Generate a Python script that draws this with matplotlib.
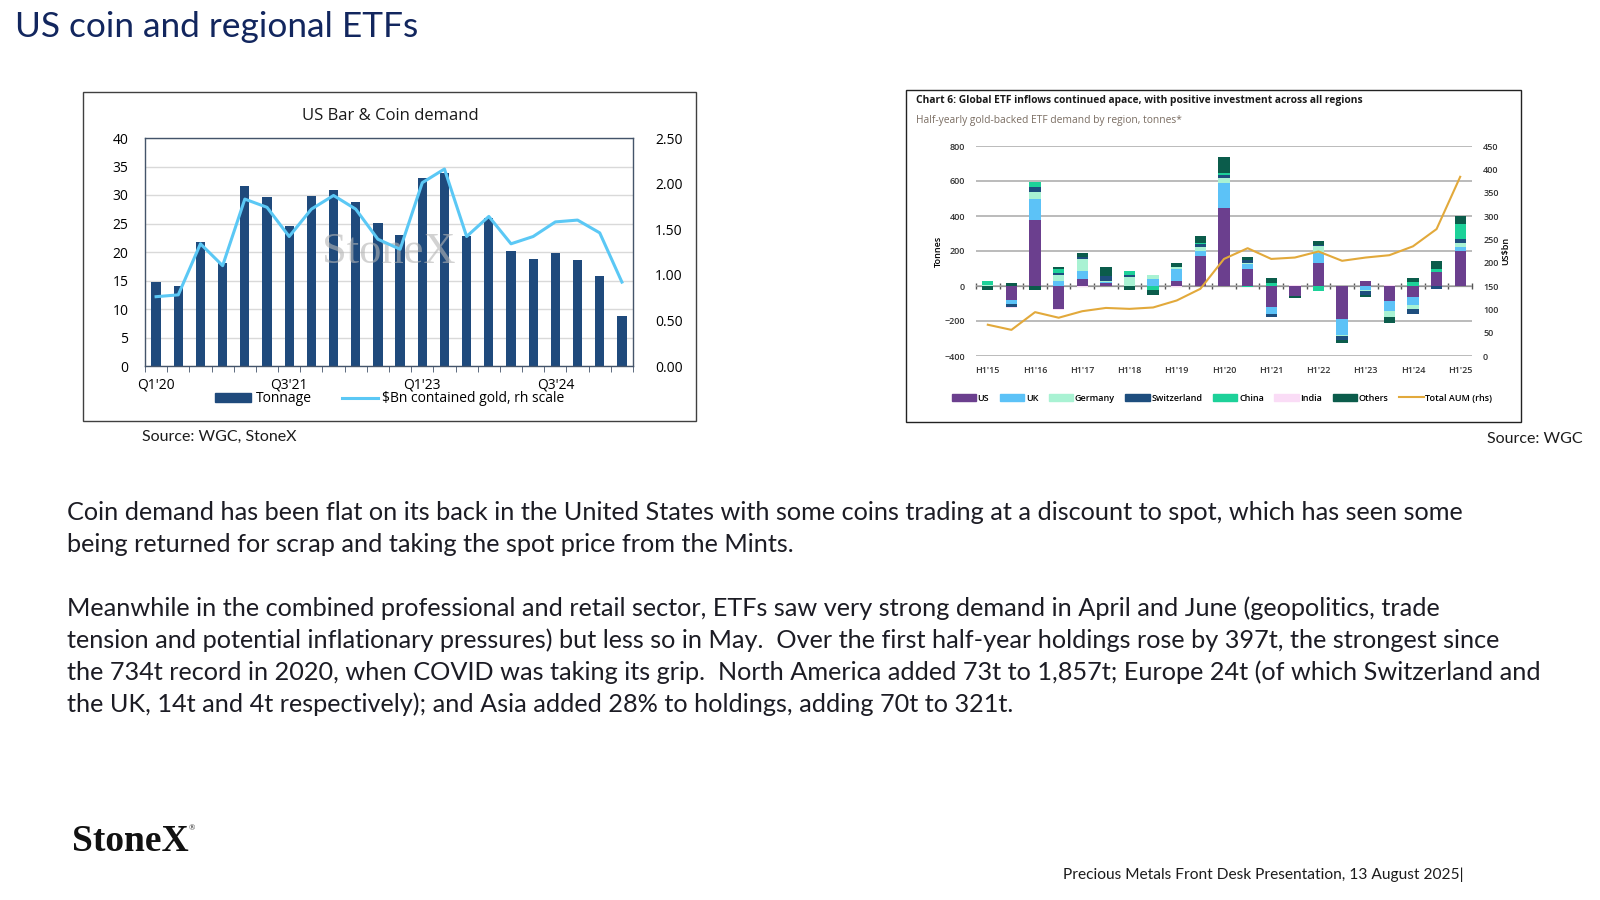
import numpy as np
import matplotlib
matplotlib.use("Agg")
import matplotlib.pyplot as plt
from matplotlib.patches import Rectangle, Patch
from matplotlib.lines import Line2D
from matplotlib.ticker import FormatStrFormatter

# ---- data: US bar & coin demand (quarterly) ----
quarters = ["Q1'20", "Q2'20", "Q3'20", "Q4'20", "Q1'21", "Q2'21", "Q3'21", "Q4'21",
            "Q1'22", "Q2'22", "Q3'22", "Q4'22", "Q1'23", "Q2'23", "Q3'23", "Q4'23",
            "Q1'24", "Q2'24", "Q3'24", "Q4'24", "Q1'25", "Q2'25"]
tonnage = [14.8, 14.1, 21.8, 18.0, 31.6, 29.7, 24.5, 29.8, 30.9, 28.7, 25.1,
           22.9, 32.9, 33.9, 22.8, 25.9, 20.1, 18.8, 19.9, 18.6, 15.8, 8.8]
bn_gold = [0.76, 0.78, 1.34, 1.10, 1.83, 1.74, 1.42, 1.72, 1.87, 1.72, 1.39,
           1.28, 2.01, 2.16, 1.42, 1.64, 1.34, 1.42, 1.58, 1.60, 1.46, 0.92]
quarter_labels = ["Q1'20", "Q3'21", "Q1'23", "Q3'24"]

# ---- data: half-yearly ETF demand by region (tonnes) ----
periods = ["H1'15", "H2'15", "H1'16", "H2'16", "H1'17", "H2'17", "H1'18", "H2'18",
           "H1'19", "H2'19", "H1'20", "H2'20", "H1'21", "H2'21", "H1'22", "H2'22",
           "H1'23", "H2'23", "H1'24", "H2'24", "H1'25"]
etf_us = [0, -80, 380, -130, 40, 15, 0, 0, 30, 173, 445, 100, -122, -55, 131, -188, 30, -88, -65, 78, 201]
etf_uk = [0, -22, 120, 30, 45, 10, 0, 40, 65, 28, 142, 25, -38, 0, 57, -90, -20, -53, -42, 0, 23]
etf_germany = [5, 0, 35, 35, 68, 5, 53, 22, 15, 23, 28, 8, 0, 0, 42, -10, -10, -38, -25, 0, 19]
etf_switzerland = [0, -17, 30, 10, 12, 28, 11, 0, 0, 15, 19, 18, -17, 0, 5, -20, -20, 0, -28, -15, 25]
etf_china = [25, 0, 30, 25, 0, 0, 23, -22, 0, 5, 13, -5, 15, 0, -30, 0, 0, 0, 25, 19, 86]
etf_india = [0, -8, 0, -8, -5, 0, 0, 0, -5, 0, 0, 0, 0, 8, 0, 0, 0, 5, 0, 0, 0]
etf_others = [-25, 15, -20, 8, 25, 50, -25, -28, 20, 40, 89, 15, 33, -15, 20, -20, -12, -30, 18, 44, 47]
total_aum = [67, 56, 94, 82, 96, 103, 101, 104, 119, 144, 208, 231, 208, 211, 224, 204, 211, 216, 235, 272, 384]

regions = ["US", "UK", "Germany", "Switzerland", "China", "India", "Others"]
region_vals = [etf_us, etf_uk, etf_germany, etf_switzerland, etf_china, etf_india, etf_others]
region_colors = ["#6B3F8E", "#5CC2F7", "#A9F2D3", "#1E4E7E", "#1DD199", "#FADCF6", "#0B5C4B"]

body_lines = [
    ("Coin demand has been flat on its back in the United States with some coins trading at a discount to spot, which has seen some", 0),
    ("being returned for scrap and taking the spot price from the Mints.", 1),
    ("Meanwhile in the combined professional and retail sector, ETFs saw very strong demand in April and June (geopolitics, trade", 3),
    ("tension and potential inflationary pressures) but less so in May.  Over the first half-year holdings rose by 397t, the strongest since", 4),
    ("the 734t record in 2020, when COVID was taking its grip.  North America added 73t to 1,857t; Europe 24t (of which Switzerland and", 5),
    ("the UK, 14t and 4t respectively); and Asia added 28% to holdings, adding 70t to 321t.", 6),
]

W, H = 1600, 900


def rect(l, t, r, b):
    return [l / W, 1 - b / H, (r - l) / W, (b - t) / H]


fig = plt.figure(figsize=(16, 9), dpi=100)
fig.patch.set_facecolor("white")

SLIDE = ["Lato", "DejaVu Sans"]
CHART = ["Open Sans", "DejaVu Sans"]

fig.text(15 / W, 1 - 37 / H, "US coin and regional ETFs", fontsize=25.4, color="#12265E",
         family=SLIDE, va="baseline")

# ================= left chart =================
fig.add_artist(Rectangle((83 / W, 1 - 421 / H), (696 - 83) / W, (421 - 92) / H,
                         transform=fig.transFigure, fill=False, ec="#404040", lw=1))
fig.text(390 / W, 1 - 116 / H, "US Bar & Coin demand", fontsize=12, family=CHART,
         ha="center", va="center", color="#1a1a1a")

axL = fig.add_axes(rect(145, 138, 633, 366))
x = np.arange(len(quarters))
axL.bar(x, tonnage, width=0.42, color="#1F4A7C", zorder=2)
axL.set_xlim(-0.5, len(quarters) - 0.5)
axL.set_ylim(0, 40)
axL.set_yticks(np.arange(0, 41, 5))
axL.grid(axis="y", color="#d9d9d9", lw=1)
axL.set_axisbelow(True)
axL.set_xticks([quarters.index(q) for q in quarter_labels])
axL.set_xticklabels(quarter_labels)
axL.set_xticks(np.arange(-0.5, len(quarters), 1), minor=True)
axL.tick_params(axis="x", which="major", length=0, pad=8, labelsize=10)
axL.tick_params(axis="x", which="minor", length=4, color="#44546A")
axL.tick_params(axis="y", length=0, pad=12, labelsize=10)
for lab in axL.get_xticklabels() + axL.get_yticklabels():
    lab.set_family(CHART)
for sp in axL.spines.values():
    sp.set_color("#44546A")
    sp.set_linewidth(1)
axL.text(0.5, 0.5, "StoneX", transform=axL.transAxes, ha="center", va="center",
         fontsize=32, family=["Liberation Serif"], color="#b5b5b5", alpha=0.6, zorder=3)

axL2 = axL.twinx()
axL2.plot(x, bn_gold, color="#5BC8F5", lw=2.2)
axL2.set_ylim(0, 2.5)
axL2.set_yticks(np.arange(0, 2.51, 0.5))
axL2.yaxis.set_major_formatter(FormatStrFormatter("%.2f"))
axL2.tick_params(axis="y", length=0, pad=16, labelsize=10)
for lab in axL2.get_yticklabels():
    lab.set_family(CHART)
for sp in axL2.spines.values():
    sp.set_visible(False)

fig.legend(handles=[Patch(color="#1F4A7C", label="Tonnage"),
                    Line2D([], [], color="#5BC8F5", lw=2.2, label="$Bn contained gold, rh scale")],
           loc="center", bbox_to_anchor=(390 / W, 1 - 399 / H), ncol=2, frameon=False,
           prop={"family": CHART, "size": 10}, handlelength=2.6, handleheight=0.6,
           columnspacing=2.2, handletextpad=0.3, borderpad=0)

fig.text(142 / W, 1 - 437 / H, "Source: WGC, StoneX", fontsize=11.5, family=SLIDE,
         va="center", color="#1c1c1c")

# ================= right chart =================
fig.add_artist(Rectangle((906 / W, 1 - 422 / H), (1521 - 906) / W, (422 - 90) / H,
                         transform=fig.transFigure, fill=False, ec="#222222", lw=1))
fig.text(916 / W, 1 - 101 / H,
         "Chart 6: Global ETF inflows continued apace, with positive investment across all regions",
         fontsize=7.35, weight="bold", family=CHART, va="center", color="#1a1a1a")
fig.text(916 / W, 1 - 121 / H, "Half-yearly gold-backed ETF demand by region, tonnes*",
         fontsize=7.35, family=CHART, va="center", color="#7a6d62")

axR = fig.add_axes(rect(976, 146, 1472, 356))
xr = np.arange(len(periods))
pos_bottom = np.zeros(len(periods))
neg_bottom = np.zeros(len(periods))
for name, vals, col in zip(regions, region_vals, region_colors):
    v = np.array(vals, dtype=float)
    pos = np.where(v > 0, v, 0)
    neg = np.where(v < 0, v, 0)
    axR.bar(xr, pos, bottom=pos_bottom, width=0.48, color=col, zorder=2)
    axR.bar(xr, neg, bottom=neg_bottom, width=0.48, color=col, zorder=2)
    pos_bottom += pos
    neg_bottom += neg
axR.set_xlim(-0.5, len(periods) - 0.5)
axR.set_ylim(-400, 800)
axR.set_yticks(np.arange(-400, 801, 200))
axR.grid(axis="y", color="#a8a8a8", lw=1.1)
axR.set_axisbelow(True)
axR.set_xticks(xr[::2])
axR.set_xticklabels(periods[::2])
axR.tick_params(axis="both", length=0, labelsize=6.5, labelcolor="#333333")
axR.tick_params(axis="x", pad=7)
axR.tick_params(axis="y", pad=8)
for lab in axR.get_xticklabels() + axR.get_yticklabels():
    lab.set_family(CHART)
    lab.set_weight("semibold")
for sp in axR.spines.values():
    sp.set_visible(False)
axR.set_ylabel("Tonnes", fontsize=6.5, family=CHART, weight="semibold", labelpad=1)

zero_ax = axR.secondary_xaxis(1 / 3)
zero_ax.set_xticks(np.arange(-0.5, len(periods), 1))
zero_ax.tick_params(direction="inout", length=5, color="#555555", labelbottom=False,
                    labeltop=False, width=1)
zero_ax.spines["bottom"].set_color("#555555")
zero_ax.spines["top"].set_color("#555555")

axR2 = axR.twinx()
axR2.plot(xr, total_aum, color="#E2A93B", lw=1.5, zorder=3)
axR2.set_ylim(0, 450)
axR2.set_yticks(np.arange(0, 451, 50))
axR2.tick_params(axis="y", length=0, labelsize=6.5, labelcolor="#333333", pad=8)
for lab in axR2.get_yticklabels():
    lab.set_family(CHART)
    lab.set_weight("semibold")
for sp in axR2.spines.values():
    sp.set_visible(False)
axR2.set_ylabel("US$bn", fontsize=6.5, family=CHART, weight="semibold", labelpad=2)

handles = [Patch(color=c, label=n) for n, c in zip(regions, region_colors)]
handles.append(Line2D([], [], color="#E2A93B", lw=1.5, label="Total AUM (rhs)"))
fig.legend(handles=handles, loc="center", bbox_to_anchor=(1222 / W, 1 - 398 / H), ncol=8,
           frameon=False, prop={"family": CHART, "size": 6.5, "weight": "semibold"},
           handlelength=2.7, handleheight=0.9, handletextpad=0.2, columnspacing=1.15, borderpad=0)

fig.text(1583 / W, 1 - 439 / H, "Source: WGC", fontsize=11.5, family=SLIDE,
         ha="right", va="center", color="#1c1c1c")

# ================= body text =================
for line, k in body_lines:
    fig.text(67 / W, 1 - (519.5 + 32 * k) / H, line, fontsize=18.2, family=SLIDE,
             va="baseline", color="#1c1c24")

fig.text(72 / W, 1 - 850.7 / H, "StoneX", fontsize=27, family=["Liberation Serif"],
         weight="bold", va="baseline", color="#111111")
fig.text(189 / W, 1 - 830 / H, "®", fontsize=6, family=["Liberation Serif"],
         va="baseline", color="#111111")
fig.text(1063 / W, 1 - 879 / H, "Precious Metals Front Desk Presentation, 13 August 2025|",
         fontsize=11.2, family=SLIDE, va="baseline", color="#1c1c1c")

fig.savefig("out.png", dpi=100, facecolor="white")
